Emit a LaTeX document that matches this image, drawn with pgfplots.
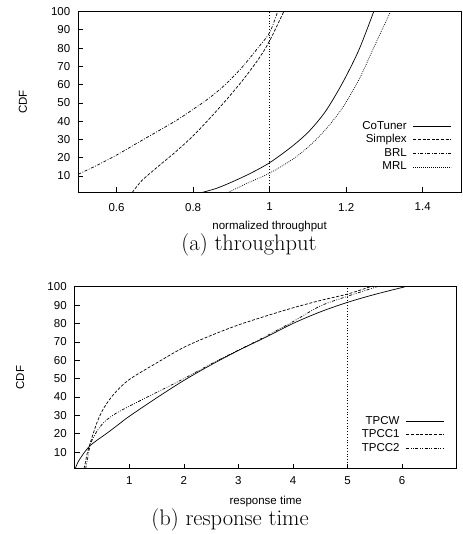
\documentclass[border=0pt]{standalone}
\usepackage{pgfplots}
\pgfplotsset{compat=1.18}
\usepackage{fontspec}
\newfontfamily\helv{Liberation Sans}
\pgfplotsset{
  cdfstyle/.style={
    scale only axis,
    height=181pt,
    ymin=1, ymax=100,
    ytick={10,20,...,100},
    tick align=inside,
    xtick pos=bottom, ytick pos=left,
    major tick length=5pt,
    tick style={line width=0.6pt, black},
    axis line style={line width=0.9pt},
    ticklabel style={font=\helv\fontsize{11.5}{13}\selectfont},
    yticklabel style={xshift=-4.5pt},
    /pgf/number format/assume math mode=true,
    legend style={draw=none, fill=none, inner sep=0pt, row sep=0pt, column sep=5pt,
      font=\helv\fontsize{11.5}{13}\selectfont,
      nodes={inner sep=1.4pt, text height=8.4pt, text depth=2.4pt}},
    legend cell align=right,
    legend plot pos=right,
    legend image code/.code={\draw[##1] (0pt,0pt) -- (38pt,0pt);},
    every axis plot/.append style={line width=0.7pt, black},
    ylabel=CDF,
  },
  brl/.style={dash pattern=on 3pt off 1.6pt on 0.8pt off 1.6pt},
  mrl/.style={dash pattern=on 0.8pt off 1.2pt},
  simp/.style={dash pattern=on 3pt off 1.6pt},
  tpc2/.style={dash pattern=on 3pt off 1.5pt on 0.8pt off 1.5pt on 0.8pt off 1.5pt},
  vref/.style={line width=0.6pt, dash pattern=on 1pt off 1.8pt},
}
\begin{document}
\begin{tikzpicture}
\path[use as bounding box] (0pt,0pt) rectangle (462pt,534pt);
% (a) throughput
\begin{axis}[cdfstyle,
  at={(78.3pt,341.5pt)}, anchor=south west,
  width=382.7pt,
  xmin=0.5, xmax=1.5,
  xtick={0.6,0.8,1,1.2,1.4},
  xticklabels={0.6,0.8,1,1.2,1.4},
  xticklabel style={yshift=-7pt},
  xlabel={normalized throughput},
  every axis x label/.style={at={(axis description cs:0.5,-0.188)}, anchor=center, font=\helv\fontsize{11.5}{13}\selectfont},
  every axis y label/.style={at={(axis description cs:-0.145,0.5)}, rotate=90, anchor=center, font=\helv\fontsize{11.5}{13}\selectfont},
  legend style={at={(axis description cs:0.9765,0.405)}, anchor=north east},
]
\addplot[smooth, tension=0.5] coordinates {
 (0.823,1) (0.86,3.2) (0.9,6.6) (0.95,11.5) (1.0,17.3) (1.059,26.3) (1.103,34.5)
 (1.146,45.4) (1.19,60.8) (1.233,78.9) (1.272,100)};
\addlegendentry{CoTuner}
\addplot[simp, smooth, tension=0.5] coordinates {
 (0.641,1) (0.666,7.5) (0.71,15.5) (0.753,23) (0.8,32) (0.841,41) (0.884,51)
 (0.928,62) (0.971,74) (1.0,84) (1.037,100)};
\addlegendentry{Simplex}
\addplot[brl, smooth, tension=0.5] coordinates {
 (0.5,11) (0.55,16) (0.6,21.5) (0.666,29.5) (0.753,40) (0.8,46.5) (0.841,52.5)
 (0.884,60) (0.928,69.5) (0.971,80.5) (1.0,88.5) (1.021,100)};
\addlegendentry{BRL}
\addplot[mrl, smooth, tension=0.5] coordinates {
 (0.891,1) (0.945,6.4) (1.0,11.6) (1.059,19) (1.103,26.3) (1.146,35.4) (1.19,47.2)
 (1.233,62.6) (1.277,82.5) (1.316,100)};
\addlegendentry{MRL}
\addplot[vref, forget plot] coordinates {(1,1) (1,100)};
\end{axis}
\node[font=\fontsize{22.5}{26}\selectfont] at (249pt,289pt) {(a) throughput};
% (b) response time
\begin{axis}[cdfstyle,
  at={(74.7pt,65.3pt)}, anchor=south west,
  width=382pt, height=182pt,
  xmin=0, xmax=7,
  xtick={1,2,3,4,5,6},
  xticklabels={1,2,3,4,5,6},
  xticklabel style={yshift=-4pt},
  xlabel={response time},
  every axis x label/.style={at={(axis description cs:0.5,-0.181)}, anchor=center, font=\helv\fontsize{11.5}{13}\selectfont},
  every axis y label/.style={at={(axis description cs:-0.143,0.5)}, rotate=90, anchor=center, font=\helv\fontsize{11.5}{13}\selectfont},
  legend style={at={(axis description cs:0.969,0.30)}, anchor=north east},
]
\addplot[smooth, tension=0.5] coordinates {
 (0.01,1) (0.05,4) (0.1,6.5) (0.18,10) (0.28,13.5) (0.4,16.3) (0.6,20.5) (0.8,25)
 (1.0,29.5) (1.5,39.5) (2.0,49) (2.5,57.5) (3.0,65.3) (3.5,72.5) (4.0,80) (4.5,86.3)
 (5.0,91.5) (5.5,95.8) (6.06,100)};
\addlegendentry{TPCW}
\addplot[simp, smooth, tension=0.5] coordinates {
 (0.17,1) (0.2,5) (0.23,9.5) (0.3,16.5) (0.42,27) (0.544,34.5) (0.73,42) (1.0,49.5)
 (1.5,58.5) (2.0,67) (2.5,73.5) (3.0,79.2) (3.5,84) (4.0,88.5) (4.5,92.5) (5.0,96)
 (5.42,100)};
\addlegendentry{TPCC1}
\addplot[tpc2, smooth, tension=0.5] coordinates {
 (0.2,1) (0.24,7) (0.29,14.5) (0.4,21) (0.544,26.5) (0.75,31) (1.0,35) (1.5,42.5)
 (2.0,50) (2.5,58) (3.0,65.5) (3.5,73) (4.0,81) (4.5,89.5) (5.0,94.8) (5.54,100)};
\addlegendentry{TPCC2}
\addplot[vref, forget plot] coordinates {(5,1) (5,100)};
\end{axis}
\node[font=\fontsize{22.5}{26}\selectfont] at (230pt,14pt) {(b) response time};
\end{tikzpicture}
\end{document}
